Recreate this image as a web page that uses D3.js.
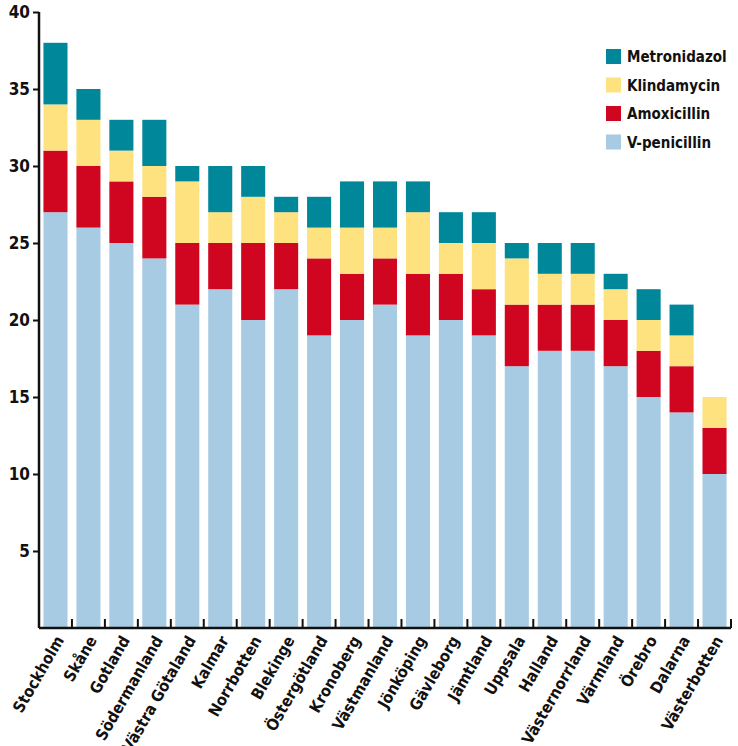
<!DOCTYPE html>
<html>
<head>
<meta charset="utf-8">
<script src="https://cdn.jsdelivr.net/npm/d3@7"></script>
<style>
  body { margin: 0; background: #fff; }
  text { font-family: "DejaVu Sans Condensed", "DejaVu Sans", sans-serif; font-weight: bold; fill: #111; }
</style>
</head>
<body>
<div id="chart"></div>
<script>
// regions, in the order shown
const regions = ["Stockholm", "Skåne", "Gotland", "Södermanland", "Västra Götaland", "Kalmar", "Norrbotten",
  "Blekinge", "Östergötland", "Kronoberg", "Västmanland", "Jönköping", "Gävleborg", "Jämtland", "Uppsala",
  "Halland", "Västernorrland", "Värmland", "Örebro", "Dalarna", "Västerbotten"];

// values per antibiotic (stacked from the bottom)
const vPenicillin  = [27, 26, 25, 24, 21, 22, 20, 22, 19, 20, 21, 19, 20, 19, 17, 18, 18, 17, 15, 14, 10];
const amoxicillin  = [ 4,  4,  4,  4,  4,  3,  5,  3,  5,  3,  3,  4,  3,  3,  4,  3,  3,  3,  3,  3,  3];
const klindamycin  = [ 3,  3,  2,  2,  4,  2,  3,  2,  2,  3,  2,  4,  2,  3,  3,  2,  2,  2,  2,  2,  2];
const metronidazol = [ 4,  2,  2,  3,  1,  3,  2,  1,  2,  3,  3,  2,  2,  2,  1,  2,  2,  1,  2,  2,  0];

const seriesNames = ["V-penicillin", "Amoxicillin", "Klindamycin", "Metronidazol"];
const colors = ["#a7cbe3", "#d0051f", "#fee280", "#00879a"];
const yTicks = [5, 10, 15, 20, 25, 30, 35, 40];

const width = 738, height = 746;
const x0 = 39, x1 = 731, yTop = 12, yBottom = 628;

const table = regions.map((r, i) => ({
  region: r,
  "V-penicillin": vPenicillin[i],
  "Amoxicillin": amoxicillin[i],
  "Klindamycin": klindamycin[i],
  "Metronidazol": metronidazol[i]
}));

const svg = d3.select("#chart").append("svg")
  .attr("width", width)
  .attr("height", height);

const x = d3.scaleBand()
  .domain(regions)
  .range([x0, x1])
  .paddingInner(0.27)
  .paddingOuter(0.135);

const y = d3.scaleLinear()
  .domain([0, 40])
  .range([yBottom, yTop]);

const stack = d3.stack().keys(seriesNames)(table);

svg.append("g")
  .selectAll("g")
  .data(stack)
  .join("g")
  .attr("fill", (d, i) => colors[i])
  .selectAll("rect")
  .data(d => d)
  .join("rect")
  .attr("x", d => x(d.data.region))
  .attr("y", d => y(d[1]))
  .attr("width", x.bandwidth())
  .attr("height", d => y(d[0]) - y(d[1]));

// y axis
const yAxis = svg.append("g")
  .attr("transform", `translate(${x0},0)`)
  .call(d3.axisLeft(y).tickValues(yTicks).tickSize(6).tickPadding(3));
yAxis.select(".domain").attr("stroke", "#111").attr("stroke-width", 2.5)
  .attr("d", `M0,${yTop}V${yBottom}`);
yAxis.selectAll(".tick line").attr("stroke", "#111").attr("stroke-width", 2);
yAxis.selectAll(".tick text").style("font-size", "17px");

// x baseline with small separators between bars
const step = x.step();
const sep = d3.range(1, regions.length + 1).map(i => x0 + i * step);
svg.append("line")
  .attr("x1", x0).attr("x2", x1)
  .attr("y1", yBottom).attr("y2", yBottom)
  .attr("stroke", "#111").attr("stroke-width", 2.5);
svg.append("g")
  .selectAll("line")
  .data(sep)
  .join("line")
  .attr("x1", d => d).attr("x2", d => d)
  .attr("y1", yBottom).attr("y2", yBottom - 9)
  .attr("stroke", "#111").attr("stroke-width", 2);

// x labels
svg.append("g")
  .selectAll("text")
  .data(regions)
  .join("text")
  .attr("text-anchor", "end")
  .attr("transform", d => `translate(${x(d) + x.bandwidth() / 2 + 9},${yBottom + 12}) rotate(-60)`)
  .style("font-size", "16px")
  .text(d => d);

// legend
const legendOrder = ["Metronidazol", "Klindamycin", "Amoxicillin", "V-penicillin"];
const legend = svg.append("g")
  .attr("transform", "translate(606,49)")
  .selectAll("g")
  .data(legendOrder)
  .join("g")
  .attr("transform", (d, i) => `translate(0,${i * 28.5})`);
legend.append("rect")
  .attr("width", 15).attr("height", 15)
  .attr("fill", d => colors[seriesNames.indexOf(d)]);
legend.append("text")
  .attr("x", 21).attr("y", 13)
  .style("font-size", "15px")
  .text(d => d);
</script>
</body>
</html>
